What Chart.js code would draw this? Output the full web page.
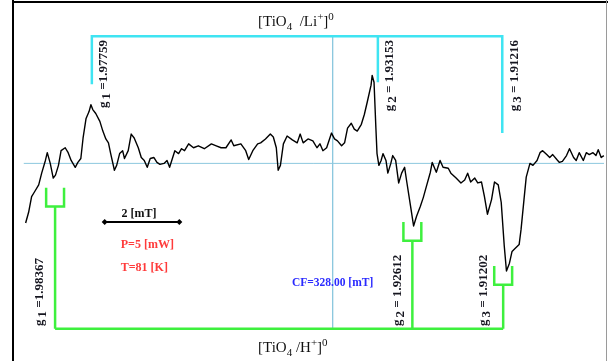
<!DOCTYPE html>
<html>
<head>
<meta charset="utf-8">
<script src="https://cdn.jsdelivr.net/npm/chart.js@4/dist/chart.umd.min.js"></script>
<style>
  html, body { margin: 0; padding: 0; background: #fff; }
  canvas { display: block; }
</style>
</head>
<body>
<canvas id="epr" width="608" height="361"></canvas>
<script>
// EPR spectrum of Ti centres: magnetic field (mT) vs first-derivative signal (arb. units)
const fieldMT = [
  319.77,319.85,319.93,320.01,320.12,320.20,320.30,320.35,320.43,320.51,
  320.57,320.65,320.72,320.83,320.91,320.99,321.10,321.17,321.25,321.31,
  321.39,321.47,321.52,321.57,321.65,321.76,321.84,321.92,321.99,322.05,
  322.15,322.21,322.29,322.37,322.42,322.52,322.60,322.68,322.79,322.87,
  322.95,323.03,323.11,323.21,323.29,323.37,323.48,323.56,323.63,323.77,
  323.87,323.95,324.03,324.14,324.27,324.40,324.56,324.75,324.88,325.01,
  325.14,325.28,325.35,325.54,325.67,325.75,325.86,325.99,326.07,326.20,
  326.33,326.41,326.49,326.54,326.60,326.68,326.78,326.92,327.05,327.13,
  327.21,327.34,327.47,327.58,327.66,327.74,327.84,327.97,328.05,328.13,
  328.24,328.32,328.40,328.50,328.58,328.66,328.77,328.85,328.93,329.03,
  329.06,329.11,329.16,329.19,329.24,329.30,329.35,329.43,329.48,329.56,
  329.61,329.69,329.77,329.85,329.93,329.98,330.09,330.17,330.25,330.35,
  330.43,330.51,330.62,330.67,330.78,330.88,330.96,331.10,331.17,331.31,
  331.44,331.54,331.62,331.70,331.81,331.89,331.99,332.07,332.15,332.26,
  332.34,332.44,332.52,332.60,332.66,332.74,332.81,332.89,333.00,333.05,
  333.13,333.19,333.29,333.37,333.48,333.56,333.63,333.74,333.82,333.90,
  334.01,334.08,334.16,334.27,334.35,334.46,334.53,334.61,334.72,334.80,
  334.88,334.98,335.06,335.12,335.20,335.27
];
const signal = [
  -61,-50,-34,-29,-22,-10,3,11,0,-15,
  -12,-2,13,16,11,3,-4,1,5,26,
  46,53,60,55,51,43,33,25,21,10,
  -7,-2,10,13,5,13,30,26,16,6,
  3,-4,5,6,1,-1,0,3,-4,13,
  10,15,13,20,16,18,15,20,18,16,
  16,24,18,20,13,4,13,20,21,25,
  30,27,16,-7,-2,20,28,24,21,30,
  21,25,23,16,20,13,16,31,25,23,
  18,21,36,41,35,33,40,50,63,80,
  90,83,36,10,-2,3,10,3,-10,0,
  8,3,-20,-10,-4,-17,-44,-64,-54,-44,
  -35,-24,-9,1,-9,3,-4,-5,-10,-15,
  -20,-17,-10,-19,-15,-20,-19,-34,-52,-37,
  -19,-22,-40,-84,-110,-102,-90,-87,-83,-68,
  -37,-14,0,-2,3,11,13,9,6,9,
  4,1,2,8,15,6,3,11,3,11,
  9,11,8,14,6,8
];

// Measurement conditions
const centerFieldMT = 328.00;
const powerMW = 5;
const temperatureK = 81;
const scaleBarMT = 2;
const mwFrequencyGHz = 8.90;

// Principal g-values of the two centres
const gLi = [1.97759, 1.93153, 1.91216];
const gH  = [1.98367, 1.92612, 1.91202];

// Axis limits
const fieldMin = 319.19, fieldMax = 335.275;
const signalMin = -198, signalMax = 163;

// Annotation layout (signal units / mT)
const liBarLevel = 130;
const liTickEnds = [81, 83, 31];
const hBarLevel = -169;
const hCupBottoms = [-44, -79, -124];
const cupDepth = 19;
const cupHalfWidthMT = 0.24;
const scaleBarStartMT = 321.89;
const scaleBarLevel = -60;

// Resonance field B = h*nu / (g * muB), in mT
const H_OVER_MUB = 71.4477; // mT per GHz
const fieldFromG = g => H_OVER_MUB * mwFrequencyGHz / g;

const CYAN = '#3fe4f2';
const GREEN = '#3ef03e';
const GUIDE = '#8cc8de';
const SERIF = "'Liberation Serif', 'Times New Roman', serif";

const lineDs = (data, color, width, order) => ({
  data, showLine: true, borderColor: color, borderWidth: width,
  pointRadius: 0, fill: false, order, clip: false,
  borderJoinStyle: 'miter', borderCapStyle: 'butt'
});

const bLi = gLi.map(fieldFromG);
const bH = gH.map(fieldFromG);

const datasets = [];
// spectrum trace
datasets.push(Object.assign(
  lineDs(fieldMT.map((b, i) => ({ x: b, y: signal[i] })), '#000', 1.4, 0),
  { borderJoinStyle: 'round' }));
// zero baseline and centre-field marker
datasets.push(lineDs([{ x: fieldMT[0] - 0.05, y: 0 }, { x: fieldMax, y: 0 }], GUIDE, 1, 5));
datasets.push(lineDs([{ x: centerFieldMT, y: liBarLevel }, { x: centerFieldMT, y: hBarLevel }], GUIDE, 1, 5));
// [TiO4/Li+]0 bracket
datasets.push(lineDs([
  { x: bLi[0], y: liTickEnds[0] }, { x: bLi[0], y: liBarLevel },
  { x: bLi[2], y: liBarLevel }, { x: bLi[2], y: liTickEnds[2] }
], CYAN, 2.5, 3));
datasets.push(lineDs([{ x: bLi[1], y: liBarLevel }, { x: bLi[1], y: liTickEnds[1] }], CYAN, 2.5, 3));
// [TiO4/H+]0 bracket
datasets.push(lineDs([{ x: bH[0], y: hBarLevel }, { x: bH[2], y: hBarLevel }], GREEN, 2.5, 3));
bH.forEach((b, i) => {
  const bot = hCupBottoms[i], top = bot + cupDepth;
  datasets.push(lineDs([
    { x: b - cupHalfWidthMT, y: top }, { x: b - cupHalfWidthMT, y: bot },
    { x: b + cupHalfWidthMT, y: bot }, { x: b + cupHalfWidthMT, y: top }
  ], GREEN, 2.5, 3));
  datasets.push(lineDs([{ x: b, y: bot }, { x: b, y: hBarLevel }], GREEN, 2.5, 3));
});
// field scale bar
datasets.push(Object.assign(lineDs([
  { x: scaleBarStartMT, y: scaleBarLevel }, { x: scaleBarStartMT + scaleBarMT, y: scaleBarLevel }
], '#000', 2, 1), { pointRadius: 3, pointStyle: 'rectRot', pointBackgroundColor: '#000', pointBorderWidth: 0 }));

// draw a run of text pieces with sub/superscript offsets
function richWidth(ctx, segs) {
  let w = 0;
  segs.forEach(s => { ctx.font = s.font; w += ctx.measureText(s.t).width + (s.gap || 0); });
  return w;
}
function drawRich(ctx, segs, x, y) {
  let cx = x;
  segs.forEach(s => {
    cx += s.gap || 0;
    ctx.font = s.font;
    ctx.fillText(s.t, cx, y + (s.dy || 0));
    cx += ctx.measureText(s.t).width;
  });
}
function titleSegs(ion, spacer) {
  const big = `15px ${SERIF}`, small = `11px ${SERIF}`;
  return [
    { t: '[TiO', font: big }, { t: '4', font: small, dy: 4 },
    { t: spacer + '/' + ion, font: big }, { t: '+', font: small, dy: -6 },
    { t: ']', font: big }, { t: '0', font: small, dy: -6 }
  ];
}
function gSegs(idx, g, sep) {
  const f = `bold 13px ${SERIF}`;
  return [
    { t: 'g', font: f }, { t: String(idx + 1), font: f, dy: 3, gap: 2 },
    { t: sep + g.toFixed(5), font: f }
  ];
}

const annotate = {
  id: 'annotate',
  beforeDraw(chart) {
    const ctx = chart.ctx;
    ctx.save();
    ctx.fillStyle = '#fff';
    ctx.fillRect(0, 0, chart.width, chart.height);
    ctx.restore();
  },
  afterDraw(chart) {
    const { ctx, scales: { x, y } } = chart;
    ctx.save();
    // frame
    ctx.fillStyle = '#000';
    ctx.fillRect(12, 0, 2, chart.height);
    ctx.fillRect(12, 1, chart.width - 12, 2);
    ctx.fillStyle = '#9a9a9a';
    ctx.fillRect(606, 0, 1, chart.height);

    ctx.textBaseline = 'alphabetic';
    ctx.textAlign = 'left';
    ctx.fillStyle = '#111';
    drawRich(ctx, titleSegs('Li', '  '), 258, 26);
    drawRich(ctx, titleSegs('H', ' '), 258, 352);

    // rotated g-value labels
    const rot = (segs, px, py, fromTop) => {
      ctx.save();
      ctx.translate(px, py);
      ctx.rotate(-Math.PI / 2);
      ctx.textBaseline = 'middle';
      const w = richWidth(ctx, segs);
      drawRich(ctx, segs, fromTop ? -w : 0, 0);
      ctx.restore();
    };
    ctx.fillStyle = '#15151f';
    gLi.forEach((g, i) => {
      rot(gSegs(i, g, i === 0 ? ' =' : ' = '), x.getPixelForValue(bLi[i]) + 12, 40, true);
    });
    const hOffsets = [-15, -15, -20];
    gH.forEach((g, i) => {
      rot(gSegs(i, g, i === 0 ? ' =' : ' = '), x.getPixelForValue(bH[i]) + hOffsets[i], 326, false);
    });

    // scale bar label and conditions
    const sb0 = x.getPixelForValue(scaleBarStartMT);
    const sb1 = x.getPixelForValue(scaleBarStartMT + scaleBarMT);
    const sbY = y.getPixelForValue(scaleBarLevel);
    ctx.fillStyle = '#111';
    ctx.textAlign = 'center';
    ctx.font = `bold 12px ${SERIF}`;
    ctx.fillText(`${scaleBarMT} [mT]`, (sb0 + sb1) / 2 - 3, sbY - 5);
    ctx.textAlign = 'left';
    ctx.fillStyle = '#ff3b3b';
    ctx.font = `bold 12px ${SERIF}`;
    ctx.fillText(`P=${powerMW} [mW]`, sb0 + 16, sbY + 26);
    ctx.fillText(`T=${temperatureK} [K]`, sb0 + 16, sbY + 49);

    ctx.textAlign = 'center';
    ctx.fillStyle = '#2a2aff';
    ctx.font = `bold 11.5px ${SERIF}`;
    ctx.fillText(`CF=${centerFieldMT.toFixed(2)} [mT]`, x.getPixelForValue(centerFieldMT), 286);
    ctx.restore();
  }
};

new Chart(document.getElementById('epr'), {
  type: 'scatter',
  data: { datasets },
  options: {
    responsive: false,
    animation: false,
    devicePixelRatio: 1,
    layout: { padding: 0 },
    plugins: { legend: { display: false }, tooltip: { enabled: false } },
    scales: {
      x: { type: 'linear', min: fieldMin, max: fieldMax, display: false },
      y: { type: 'linear', min: signalMin, max: signalMax, display: false }
    },
    elements: { line: { tension: 0 } }
  },
  plugins: [annotate]
});
</script>
</body>
</html>
